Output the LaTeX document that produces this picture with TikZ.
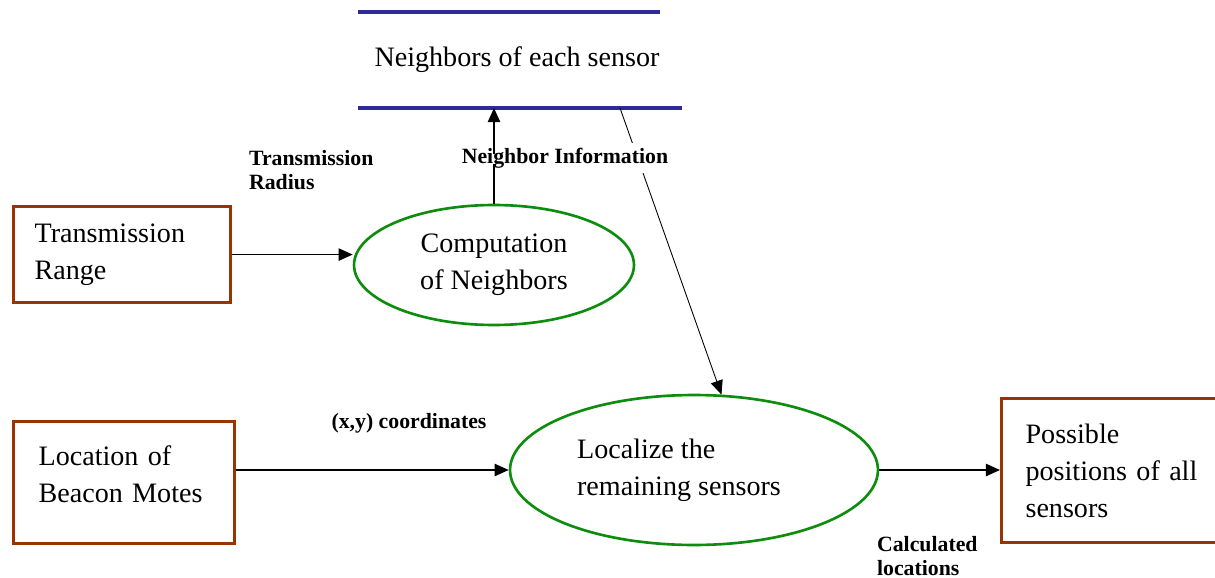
\documentclass[tikz,border=0pt]{standalone}
\usepackage{fontspec}
\setmainfont{Liberation Serif}
\usetikzlibrary{arrows.meta,shapes.geometric,calc}
\definecolor{BoxClr}{rgb}{0.6,0.2,0}
\definecolor{ProcClr}{rgb}{0.05,0.55,0.05}
\definecolor{StoreClr}{rgb}{0.17,0.17,0.6}

\begin{document}
\begin{tikzpicture}[x=0.02cm,y=-0.02cm,
  entity/.style={draw=BoxClr,line width=1.8pt,align=left,inner xsep=0pt,inner ysep=0pt,
    font=\fontsize{16}{21}\selectfont},
  process/.style={draw=ProcClr,line width=1.5pt,ellipse,inner sep=0pt,
    font=\fontsize{16}{21}\selectfont},
  flowlbl/.style={font=\fontsize{12.4}{14}\selectfont\bfseries,inner sep=1pt},
  flow/.style={line width=0.8pt,-{Triangle[length=8pt,width=7pt]}}]
\useasboundingbox (0,0) rectangle (1215,578);

% Data store
\draw[StoreClr,line width=2pt] (358,12) -- (660,12);
\draw[StoreClr,line width=2pt] (358,108) -- (682,108);
\node[font=\fontsize{16}{21}\selectfont] (store) at (517,60) {Neighbors of each sensor};
\coordinate (sdiag) at (620,108);

% External entities
\node[entity,text width=3.5cm,inner xsep=0.42cm,minimum height=1.92cm,anchor=north west]
  (range) at (12,205) {Transmission\\Range};
\node[entity,text width=3.42cm,inner xsep=0.5cm,minimum height=2.44cm,anchor=north west]
  (beacon) at (12,420) {Location of\\Beacon Motes\\[-0.4cm]\mbox{}};
\node[entity,text width=3.84cm,inner xsep=0.48cm,minimum height=2.88cm,anchor=north west]
  (pos) at (1000,397) {Possible\\positions of all\\sensors};

% Processes
\node[process,minimum width=5.6cm,minimum height=2.4cm,align=center]
  (comp) at (494,265) {Computation\\of Neighbors};
\node[process,minimum width=7.36cm,minimum height=3cm,align=left]
  (loc) at (694,470) {Localize the\hspace*{0.6cm}\\remaining sensors\hspace*{0.6cm}};
\coordinate (sbot) at (comp.north |- 0,108);

% Flows
\draw[flow] (range.east) -- (range.east -| comp.west);
\draw[flow] (loc.west -| beacon.east) -- (loc.west);
\draw[flow] (loc.east) -- (loc.east -| pos.west);
\draw[line width=0.5pt,-{Triangle[length=8pt,width=7pt]}] (sdiag) -- (loc.70);

\node[flowlbl,align=left,anchor=west] (radius) at (247,170) {Transmission\\Radius};
\node[flowlbl,fill=white,inner ysep=3pt] (info) at (565,158) {Neighbor Information};
\node[flowlbl] (xy) at (409,423) {(x,y) coordinates};
\node[flowlbl,align=left,anchor=west] (calc) at (875,556) {Calculated\\locations};

\draw[line width=0.8pt] (comp.north) -- ($(comp.north |- info.south)+(0,-10)$);
\draw[flow] ($(comp.north |- info.north)+(0,12)$) -- (sbot);

\end{tikzpicture}
\end{document}
